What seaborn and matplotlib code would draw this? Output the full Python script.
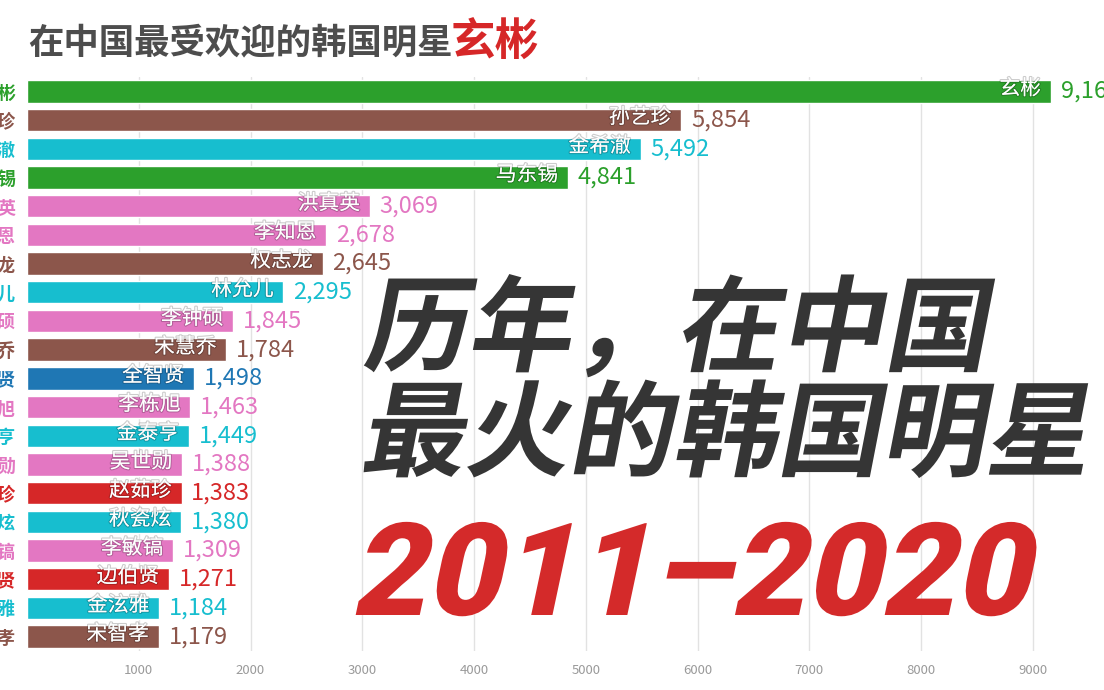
import matplotlib
matplotlib.use('Agg')
import matplotlib.pyplot as plt
import seaborn as sns
import pandas as pd
import numpy as np
from matplotlib import patheffects as pe
from matplotlib.transforms import Affine2D

# ---------------- data ----------------
names = ['玄彬', '孙艺珍', '金希澈', '马东锡', '洪真英', '李知恩', '权志龙', '林允儿',
         '李钟硕', '宋慧乔', '全智贤', '李栋旭', '金泰亨', '吴世勋', '赵茹珍', '秋瓷炫',
         '李敏镐', '边伯贤', '金泫雅', '宋智孝']
values = [9162, 5854, 5492, 4841, 3069, 2678, 2645, 2295, 1845, 1784,
          1498, 1463, 1449, 1388, 1383, 1380, 1309, 1271, 1184, 1179]
bar_colors = ['#2ca02c', '#8c564b', '#17becf', '#2ca02c', '#e377c2', '#e377c2',
              '#8c564b', '#17becf', '#e377c2', '#8c564b', '#1f77b4', '#e377c2',
              '#17becf', '#e377c2', '#d62728', '#17becf', '#e377c2', '#d62728',
              '#17becf', '#8c564b']
x_ticks = [1000, 2000, 3000, 4000, 5000, 6000, 7000, 8000, 9000]
title_main = '在中国最受欢迎的韩国明星'
title_star = '玄彬'
overlay_lines = ['历年，在中国', '最火的韩国明星']
overlay_years = '2011–2020'

# ---------------- style ----------------
sns.set_theme(style='white')
plt.rcParams['font.family'] = ['Noto Sans CJK SC', 'DejaVu Sans']

W, H = 1104, 690
fig = plt.figure(figsize=(W / 100, H / 100), dpi=100)
fig.patch.set_facecolor('white')

ax_left, ax_right, ax_top, ax_bottom = 27, 1104, 77, 651
ax = fig.add_axes([ax_left / W, (H - ax_bottom) / H,
                   (ax_right - ax_left) / W, (ax_bottom - ax_top) / H])

df = pd.DataFrame({'name': names, 'value': values})
palette = dict(zip(names, bar_colors))
sns.barplot(data=df, x='value', y='name', hue='name', palette=palette,
            orient='h', legend=False, width=0.78, dodge=False,
            saturation=1, ax=ax, zorder=2)

px_per_unit = 0.11175
ax.set_xlim(0, (ax_right - ax_left) / px_per_unit)
ax.set_ylim(len(names) - 0.5, -0.5)
ax.set_xticks(x_ticks)
ax.set_xticklabels([str(t) for t in x_ticks])
ax.grid(axis='x', color='#e2e2e2', lw=1.0, zorder=0)
ax.set_axisbelow(True)
for s in ax.spines.values():
    s.set_visible(False)
ax.set_xlabel('')
ax.set_ylabel('')
ax.tick_params(axis='x', length=0, pad=9, labelsize=9.5, labelcolor='#9a9a9a')
ax.tick_params(axis='y', length=0, pad=8, labelsize=13)
for lab, c in zip(ax.get_yticklabels(), bar_colors):
    lab.set_color(c)
    lab.set_fontweight('bold')

# labels on bars
for i, (n, v, c) in enumerate(zip(names, values, bar_colors)):
    ax.annotate(n, xy=(v, i), xytext=(-7, 2), textcoords='offset points',
                ha='right', va='center', fontsize=15, color='white', zorder=4,
                path_effects=[pe.withStroke(linewidth=1.6, foreground=(0, 0, 0, 0.2))])
    ax.annotate(f'{v:,}', xy=(v, i), xytext=(7, 0), textcoords='offset points',
                ha='left', va='center', fontsize=17, color=c, zorder=4,
                annotation_clip=False)

# title
t1 = fig.text(28 / W, 1 - 43 / H, title_main, ha='left', va='center',
              fontsize=25.5, fontweight='bold', color='#4d4d4d')
ax.annotate(title_star, xy=(1.0, 0.5), xycoords=t1, xytext=(-1.5, 0),
            textcoords='offset points', ha='left', va='center',
            fontsize=32, fontweight='bold', color='#d62728', annotation_clip=False)


# slanted overlay text (real text objects, sheared at draw time)
class Skew(pe.AbstractPathEffect):
    def __init__(self, deg=11):
        super().__init__()
        self.shear = np.deg2rad(deg)

    def draw_path(self, renderer, gc, tpath, affine, rgbFace=None):
        m = affine.get_matrix()
        tx, ty = m[0, 2], m[1, 2]
        sk = Affine2D().translate(-tx, -ty).skew(self.shear, 0).translate(tx, ty)
        renderer.draw_path(gc, tpath, affine + sk, rgbFace)


fig.text(362 / W, 1 - 363 / H, overlay_lines[0], ha='left', va='baseline',
         fontsize=75, fontweight='heavy', color='#353535',
         path_effects=[Skew(11)], zorder=10)
fig.text(359 / W, 1 - 468 / H, overlay_lines[1], ha='left', va='baseline',
         fontsize=75, fontweight='heavy', color='#353535',
         path_effects=[Skew(11)], zorder=10)
fig.text(350 / W, 1 - 615 / H, overlay_years, ha='left', va='baseline',
         fontsize=93, fontweight='black', color='#d42a2a',
         family=['Roboto', 'DejaVu Sans'],
         path_effects=[Skew(12)], zorder=10)

fig.savefig('out.png', dpi=100, facecolor='white')
